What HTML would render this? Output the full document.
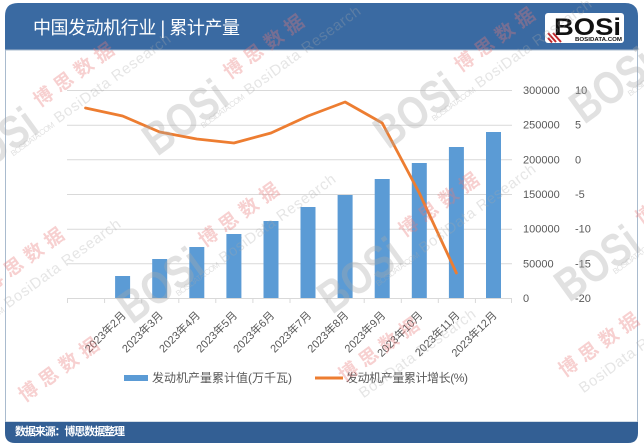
<!DOCTYPE html>
<html><head><meta charset="utf-8">
<style>
html,body{margin:0;padding:0;background:#fff;width:644px;height:446px;overflow:hidden;}
svg{display:block;overflow:hidden;}
text{font-family:"Liberation Sans","Noto Sans CJK SC",sans-serif;}
</style></head><body>
<svg width="644" height="446" viewBox="0 0 644 446" overflow="hidden" xmlns="http://www.w3.org/2000/svg">
<defs><clipPath id="cp"><rect x="0" y="0" width="644" height="446"/></clipPath></defs>
<rect width="644" height="446" fill="#fff"/>

<!-- frame -->
<path d="M5,50 V16 Q5,3 18,3 H625 Q638,3 638,16 V50 Z" fill="#3a6aa2"/>
<rect x="5.5" y="50" width="632" height="372" fill="#fff" stroke="#a9bbce" stroke-width="1"/>
<path d="M5,422 H638 V433 Q638,443 628,443 H15 Q5,443 5,433 Z" fill="#335f94"/>

<text x="33" y="34" font-size="18" fill="#fff" textLength="207">中国发动机行业 | 累计产量</text>

<!-- header logo -->
<rect x="545" y="13" width="79" height="30" rx="3" fill="#fff"/>
<text x="554" y="35" font-size="24" font-weight="bold" fill="#111" textLength="67" lengthAdjust="spacingAndGlyphs">BOSi</text>
<text x="575" y="41" font-size="5.5" font-weight="bold" fill="#111" textLength="47" lengthAdjust="spacingAndGlyphs">BOSIDATA.COM</text>
<g stroke="#c0282d" stroke-width="2">
<line x1="548" y1="33" x2="556" y2="42"/>
<line x1="548" y1="38" x2="552" y2="42.5"/>
<line x1="553" y1="33" x2="561" y2="42"/>
</g>

<!-- gridlines -->
<g stroke="#d9d9d9" stroke-width="1">
<line x1="67" y1="90.5" x2="512" y2="90.5"/>
<line x1="67" y1="125.2" x2="512" y2="125.2"/>
<line x1="67" y1="159.8" x2="512" y2="159.8"/>
<line x1="67" y1="194.5" x2="512" y2="194.5"/>
<line x1="67" y1="229.2" x2="512" y2="229.2"/>
<line x1="67" y1="263.8" x2="512" y2="263.8"/>
<line x1="67" y1="298.5" x2="512" y2="298.5"/>
</g>
<!-- ticks -->
<g stroke="#d9d9d9" stroke-width="1">
<line x1="67.5" y1="298" x2="67.5" y2="303"/>
<line x1="104.6" y1="298" x2="104.6" y2="303"/>
<line x1="141.7" y1="298" x2="141.7" y2="303"/>
<line x1="178.8" y1="298" x2="178.8" y2="303"/>
<line x1="215.8" y1="298" x2="215.8" y2="303"/>
<line x1="252.9" y1="298" x2="252.9" y2="303"/>
<line x1="290" y1="298" x2="290" y2="303"/>
<line x1="327.1" y1="298" x2="327.1" y2="303"/>
<line x1="364.2" y1="298" x2="364.2" y2="303"/>
<line x1="401.3" y1="298" x2="401.3" y2="303"/>
<line x1="438.3" y1="298" x2="438.3" y2="303"/>
<line x1="475.4" y1="298" x2="475.4" y2="303"/>
<line x1="511.5" y1="298" x2="511.5" y2="303"/>
</g>

<!-- bars -->
<g fill="#5b9bd5">
<rect x="115.1" y="276" width="15" height="22"/>
<rect x="152.2" y="259" width="15" height="39"/>
<rect x="189.3" y="247" width="15" height="51"/>
<rect x="226.4" y="234" width="15" height="64"/>
<rect x="263.5" y="221" width="15" height="77"/>
<rect x="300.5" y="207" width="15" height="91"/>
<rect x="337.6" y="195" width="15" height="103"/>
<rect x="374.7" y="179" width="15" height="119"/>
<rect x="411.8" y="163" width="15" height="135"/>
<rect x="448.9" y="147" width="15" height="151"/>
<rect x="486" y="132" width="15" height="166"/>
</g>

<!-- line -->
<polyline fill="none" stroke="#ed7d31" stroke-width="2.8" stroke-linejoin="round" stroke-linecap="round"
points="85.5,108 122.6,116 159.7,132 196.8,139 233.9,143 271,133 308,116 345.1,102 382.2,123 419.3,193 456.4,273"/>

<!-- right axis labels -->
<g font-size="11" fill="#595959">
<text x="523" y="94">300000</text>
<text x="523" y="128.7">250000</text>
<text x="523" y="163.3">200000</text>
<text x="523" y="198">150000</text>
<text x="523" y="232.7">100000</text>
<text x="523" y="267.3">50000</text>
<text x="523" y="302">0</text>
<text x="575" y="94">10</text>
<text x="575" y="128.7">5</text>
<text x="575" y="163.3">0</text>
<text x="575" y="198">-5</text>
<text x="575" y="232.7">-10</text>
<text x="575" y="267.3">-15</text>
<text x="575" y="302">-20</text>
</g>

<!-- x labels -->
<g font-size="11" fill="#595959" text-anchor="end">
<text x="126.6" y="316" transform="rotate(-45 126.6 316)">2023年2月</text>
<text x="163.7" y="316" transform="rotate(-45 163.7 316)">2023年3月</text>
<text x="200.8" y="316" transform="rotate(-45 200.8 316)">2023年4月</text>
<text x="237.9" y="316" transform="rotate(-45 237.9 316)">2023年5月</text>
<text x="275" y="316" transform="rotate(-45 275 316)">2023年6月</text>
<text x="312" y="316" transform="rotate(-45 312 316)">2023年7月</text>
<text x="349.1" y="316" transform="rotate(-45 349.1 316)">2023年8月</text>
<text x="386.2" y="316" transform="rotate(-45 386.2 316)">2023年9月</text>
<text x="423.3" y="316" transform="rotate(-45 423.3 316)">2023年10月</text>
<text x="460.4" y="316" transform="rotate(-45 460.4 316)">2023年11月</text>
<text x="497.5" y="316" transform="rotate(-45 497.5 316)">2023年12月</text>
</g>

<!-- legend -->
<rect x="124" y="375" width="24" height="6" fill="#5b9bd5"/>
<text x="152" y="382" font-size="12" fill="#595959" textLength="140">发动机产量累计值(万千瓦)</text>
<line x1="315" y1="378" x2="343" y2="378" stroke="#ed7d31" stroke-width="3"/>
<text x="346" y="382" font-size="12" fill="#595959" textLength="122">发动机产量累计增长(%)</text>

<!-- footer -->
<text x="15" y="435" font-size="11" font-weight="bold" fill="#fff" textLength="110">数据来源：博思数据整理</text>

<!-- watermarks -->
<g clip-path="url(#cp)">
<g transform="translate(-5,145) rotate(-36)">
<text x="0" y="16" text-anchor="middle" font-size="46" font-weight="bold" fill="#a8a8a8" fill-opacity="0.35" textLength="92" lengthAdjust="spacingAndGlyphs">BOSi</text>
<text x="58" y="-4" font-size="19" font-weight="bold" fill="#e87878" fill-opacity="0.35" letter-spacing="6">博思数据</text>
<text x="8" y="20" font-size="8" fill="#a8a8a8" fill-opacity="0.35" textLength="52">BOSIDATA.COM</text>
<text x="64" y="20" font-size="15" font-family="Liberation Serif" fill="#a8a8a8" fill-opacity="0.3" textLength="140">BosiData Research</text>
</g>
<g transform="translate(185,117) rotate(-36)">
<text x="0" y="16" text-anchor="middle" font-size="46" font-weight="bold" fill="#a8a8a8" fill-opacity="0.35" textLength="92" lengthAdjust="spacingAndGlyphs">BOSi</text>
<text x="58" y="-4" font-size="19" font-weight="bold" fill="#e87878" fill-opacity="0.35" letter-spacing="6">博思数据</text>
<text x="8" y="20" font-size="8" fill="#a8a8a8" fill-opacity="0.35" textLength="52">BOSIDATA.COM</text>
<text x="64" y="20" font-size="15" font-family="Liberation Serif" fill="#a8a8a8" fill-opacity="0.3" textLength="140">BosiData Research</text>
</g>
<g transform="translate(416,110) rotate(-36)">
<text x="0" y="16" text-anchor="middle" font-size="46" font-weight="bold" fill="#a8a8a8" fill-opacity="0.35" textLength="92" lengthAdjust="spacingAndGlyphs">BOSi</text>
<text x="58" y="-4" font-size="19" font-weight="bold" fill="#e87878" fill-opacity="0.35" letter-spacing="6">博思数据</text>
<text x="8" y="20" font-size="8" fill="#a8a8a8" fill-opacity="0.35" textLength="52">BOSIDATA.COM</text>
<text x="64" y="20" font-size="15" font-family="Liberation Serif" fill="#a8a8a8" fill-opacity="0.3" textLength="140">BosiData Research</text>
</g>
<g transform="translate(612,85) rotate(-36)">
<text x="0" y="16" text-anchor="middle" font-size="46" font-weight="bold" fill="#a8a8a8" fill-opacity="0.35" textLength="92" lengthAdjust="spacingAndGlyphs">BOSi</text>
<text x="8" y="20" font-size="8" fill="#a8a8a8" fill-opacity="0.35" textLength="52">BOSIDATA.COM</text>
</g>
<g transform="translate(-55,330) rotate(-36)">
<text x="0" y="16" text-anchor="middle" font-size="46" font-weight="bold" fill="#a8a8a8" fill-opacity="0.35" textLength="92" lengthAdjust="spacingAndGlyphs">BOSi</text>
<text x="58" y="-4" font-size="19" font-weight="bold" fill="#e87878" fill-opacity="0.35" letter-spacing="6">博思数据</text>
<text x="8" y="20" font-size="8" fill="#a8a8a8" fill-opacity="0.35" textLength="52">BOSIDATA.COM</text>
<text x="64" y="20" font-size="15" font-family="Liberation Serif" fill="#a8a8a8" fill-opacity="0.3" textLength="140">BosiData Research</text>
</g>
<g transform="translate(160,285) rotate(-36)">
<text x="0" y="16" text-anchor="middle" font-size="46" font-weight="bold" fill="#a8a8a8" fill-opacity="0.35" textLength="92" lengthAdjust="spacingAndGlyphs">BOSi</text>
<text x="58" y="-4" font-size="19" font-weight="bold" fill="#e87878" fill-opacity="0.35" letter-spacing="6">博思数据</text>
<text x="8" y="20" font-size="8" fill="#a8a8a8" fill-opacity="0.35" textLength="52">BOSIDATA.COM</text>
<text x="64" y="20" font-size="15" font-family="Liberation Serif" fill="#a8a8a8" fill-opacity="0.3" textLength="140">BosiData Research</text>
</g>
<g transform="translate(360,275) rotate(-36)">
<text x="0" y="16" text-anchor="middle" font-size="46" font-weight="bold" fill="#a8a8a8" fill-opacity="0.35" textLength="92" lengthAdjust="spacingAndGlyphs">BOSi</text>
<text x="58" y="-4" font-size="19" font-weight="bold" fill="#e87878" fill-opacity="0.35" letter-spacing="6">博思数据</text>
<text x="8" y="20" font-size="8" fill="#a8a8a8" fill-opacity="0.35" textLength="52">BOSIDATA.COM</text>
<text x="64" y="20" font-size="15" font-family="Liberation Serif" fill="#a8a8a8" fill-opacity="0.3" textLength="140">BosiData Research</text>
</g>
<g transform="translate(597,263) rotate(-36)">
<text x="0" y="16" text-anchor="middle" font-size="46" font-weight="bold" fill="#a8a8a8" fill-opacity="0.35" textLength="92" lengthAdjust="spacingAndGlyphs">BOSi</text>
<text x="58" y="-4" font-size="19" font-weight="bold" fill="#e87878" fill-opacity="0.35" letter-spacing="6">博思数据</text>
<text x="8" y="20" font-size="8" fill="#a8a8a8" fill-opacity="0.35" textLength="52">BOSIDATA.COM</text>
</g>
<g transform="translate(-20,440) rotate(-36)">
<text x="58" y="-4" font-size="19" font-weight="bold" fill="#e87878" fill-opacity="0.35" letter-spacing="6">博思数据</text>
</g>
<g transform="translate(300,420) rotate(-36)">
<text x="58" y="-4" font-size="19" font-weight="bold" fill="#e87878" fill-opacity="0.35" letter-spacing="6">博思数据</text>
<text x="64" y="20" font-size="15" font-family="Liberation Serif" fill="#a8a8a8" fill-opacity="0.3" textLength="140">BosiData Research</text>
</g>
<g transform="translate(520,415) rotate(-36)">
<text x="58" y="-4" font-size="19" font-weight="bold" fill="#e87878" fill-opacity="0.35" letter-spacing="6">博思数据</text>
<text x="64" y="20" font-size="15" font-family="Liberation Serif" fill="#a8a8a8" fill-opacity="0.3" textLength="140">BosiData Research</text>
</g>
</g>
</svg>
</body></html>
